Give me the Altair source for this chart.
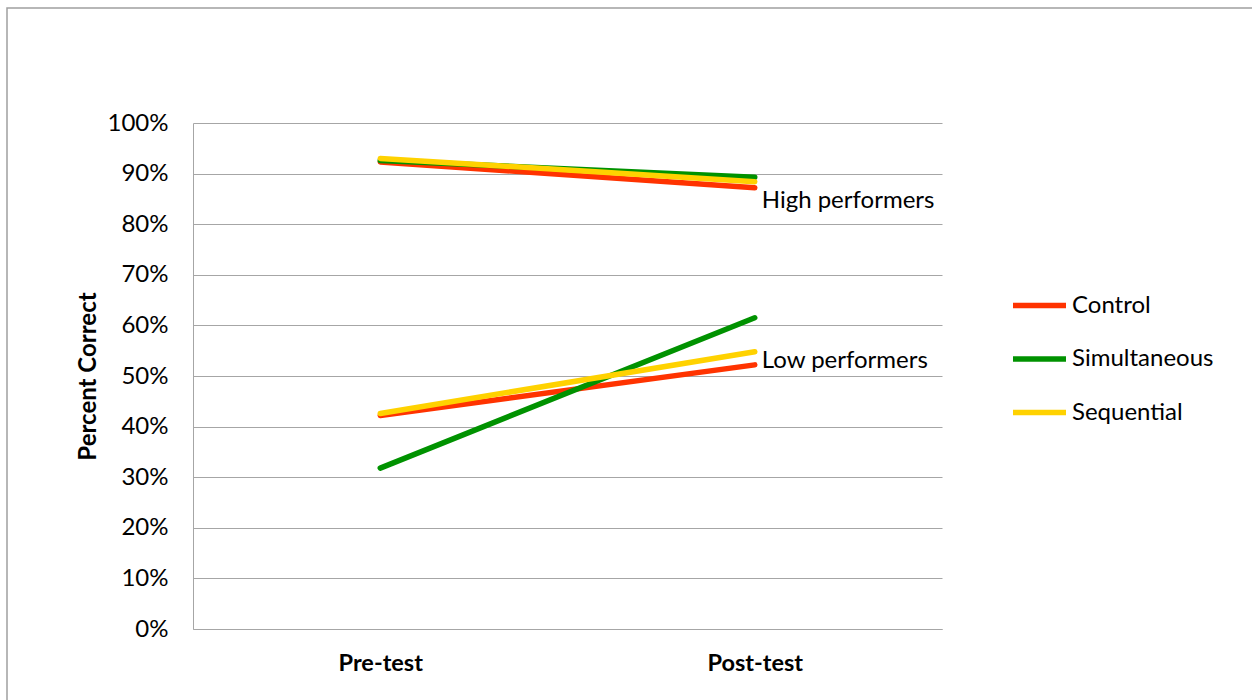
import altair as alt
import pandas as pd

# Percent correct by test phase, for each condition and performer group
phases = ["Pre-test", "Post-test"]
conditions = ["Control", "Simultaneous", "Sequential"]
colors = ["#FF3300", "#009200", "#FFD200"]

high_control = [92.3, 87.2]
high_simultaneous = [92.6, 89.3]
high_sequential = [93.0, 88.4]

low_control = [42.2, 52.2]
low_simultaneous = [31.8, 61.5]
low_sequential = [42.6, 54.8]

group_labels = ["High performers", "Low performers"]
group_label_values = [84.6, 53.0]

series = {
    ("High", "Control"): high_control,
    ("High", "Simultaneous"): high_simultaneous,
    ("High", "Sequential"): high_sequential,
    ("Low", "Control"): low_control,
    ("Low", "Simultaneous"): low_simultaneous,
    ("Low", "Sequential"): low_sequential,
}

rows = []
for (group, cond), vals in series.items():
    for phase, v in zip(phases, vals):
        rows.append({"phase": phase, "condition": cond, "group": group,
                     "value": v / 100, "order": conditions.index(cond)})
df = pd.DataFrame(rows)

labels_df = pd.DataFrame({"phase": ["Post-test"] * 2, "label": group_labels,
                          "value": [v / 100 for v in group_label_values]})

FONT = "Lato"
FS = 24
W, H = 749, 506

x_enc = alt.X("phase:N", sort=phases, scale=alt.Scale(domain=phases, paddingOuter=0.5),
              axis=alt.Axis(title=None, labelAngle=0, labelFontWeight="bold",
                            labelFontSize=FS - 0.5, labelFont=FONT, labelColor="#000",
                            labelPadding=34, labelBaseline="middle",
                            ticks=False, tickSize=0, domainColor="#a6a6a6",
                            grid=False))
y_enc = alt.Y("value:Q", scale=alt.Scale(domain=[0, 1], nice=False),
              axis=alt.Axis(title="Percent Correct", format=".0%", values=[i / 10 for i in range(11)],
                            labelFontSize=FS, labelFont=FONT, labelColor="#000",
                            labelPadding=25, ticks=False, tickSize=0,
                            domainColor="#a6a6a6", gridColor="#a6a6a6",
                            titleFont=FONT, titleFontSize=FS, titleFontWeight="bold",
                            titleColor="#000", titleAngle=-90, titleX=-105, titleY=H / 2,
                            titleAlign="center", titleBaseline="middle"))

lines = alt.Chart(df).mark_line(strokeWidth=5.5, strokeCap="round").encode(
    x=x_enc,
    y=y_enc,
    color=alt.Color("condition:N", sort=conditions,
                    scale=alt.Scale(domain=conditions, range=colors),
                    legend=alt.Legend(title=None, orient="none", legendX=817, legendY=153,
                                      symbolType="stroke", symbolSize=2809,
                                      symbolStrokeWidth=5.5, labelFont=FONT,
                                      labelFontSize=FS, labelColor="#000",
                                      labelOffset=3, rowPadding=11.5)),
    detail="group:N",
    order="order:Q",
)

group_text = alt.Chart(labels_df).mark_text(
    align="left", baseline="middle", dx=7, font=FONT, fontSize=FS, color="#000"
).encode(x=alt.X("phase:N", sort=phases), y="value:Q", text="label:N")

# Outer chart-area frame
frame = alt.Chart(pd.DataFrame({"a": [0]})).mark_rect(
    fill=None, stroke="#a0a0a0", strokeWidth=1.5
).encode(x=alt.value(-186), x2=alt.value(W + 400), y=alt.value(-115), y2=alt.value(H + 200))

chart = alt.layer(frame, lines, group_text).properties(
    width=W, height=H,
    autosize=alt.AutoSizeParams(type="none"),
    padding={"left": 193, "top": 123, "right": 310, "bottom": 71},
    background="white",
).configure_view(stroke=None)

chart.save("out.html", embed_options={"renderer": "svg", "actions": False})
